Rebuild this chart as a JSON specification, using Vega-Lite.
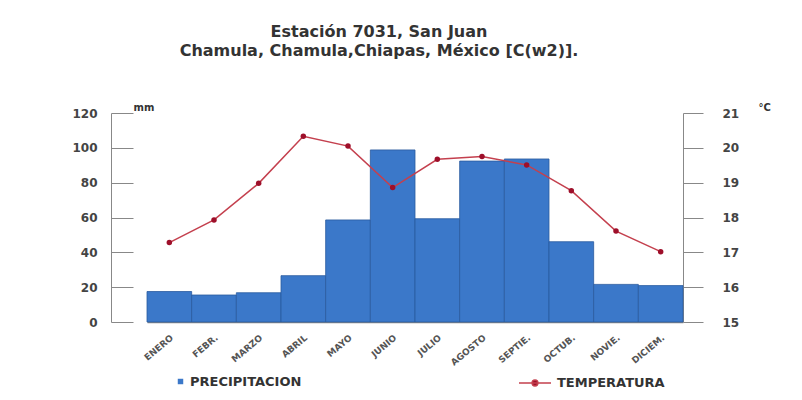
{
  "$schema": "https://vega.github.io/schema/vega-lite/v6.json",
  "autosize": {"type": "none"},
  "width": 572,
  "height": 209,
  "padding": {"left": 111, "top": 113, "right": 119, "bottom": 78},
  "background": "white",
  "config": {
    "view": {"stroke": null},
    "font": "DejaVu Sans"
  },
  "title": {
    "text": ["Estación 7031, San Juan", "Chamula, Chamula,Chiapas, México [C(w2)]."],
    "font": "DejaVu Sans",
    "fontSize": 16,
    "fontWeight": "bold",
    "color": "#333333",
    "anchor": "middle",
    "dx": -18,
    "offset": 43,
    "lineHeight": 19
  },
  "data": {
    "values": [
      {"mes": "ENERO", "precip": 17.5, "temp": 17.28},
      {"mes": "FEBR.", "precip": 15.5, "temp": 17.93},
      {"mes": "MARZO", "precip": 16.8, "temp": 18.98},
      {"mes": "ABRIL", "precip": 26.6, "temp": 20.33},
      {"mes": "MAYO", "precip": 58.6, "temp": 20.05},
      {"mes": "JUNIO", "precip": 98.8, "temp": 18.86},
      {"mes": "JULIO", "precip": 59.3, "temp": 19.67},
      {"mes": "AGOSTO", "precip": 92.4, "temp": 19.75},
      {"mes": "SEPTIE.", "precip": 93.6, "temp": 19.51},
      {"mes": "OCTUB.", "precip": 46.1, "temp": 18.77},
      {"mes": "NOVIE.", "precip": 21.6, "temp": 17.61},
      {"mes": "DICIEM.", "precip": 20.9, "temp": 17.02}
    ]
  },
  "encoding": {
    "x": {
      "field": "mes",
      "type": "nominal",
      "sort": null,
      "scale": {"range": [36, 572], "paddingInner": 0, "paddingOuter": 0},
      "axis": {
        "title": null,
        "labelAngle": -40,
        "labelFont": "DejaVu Sans",
        "labelFontSize": 9,
        "labelFontWeight": "bold",
        "labelColor": "#555555",
        "labelPadding": 11,
        "ticks": false,
        "domainColor": "#888888",
        "domainWidth": 1.5
      }
    }
  },
  "layer": [
    {
      "mark": {"type": "bar", "stroke": "#2a5b9e", "strokeWidth": 0.8},
      "encoding": {
        "y": {
          "field": "precip",
          "type": "quantitative",
          "scale": {"domain": [0, 120], "nice": false},
          "axis": {
            "title": "mm",
            "titleAngle": 0,
            "titleX": 22,
            "titleY": -6,
            "titleAlign": "left",
            "titleBaseline": "middle",
            "titleFont": "DejaVu Sans",
            "titleFontSize": 10,
            "titleFontWeight": "bold",
            "titleColor": "#333333",
            "values": [0, 20, 40, 60, 80, 100, 120],
            "grid": false,
            "tickSize": -22,
            "labelPadding": 36,
            "labelFont": "DejaVu Sans",
            "labelFontSize": 12,
            "labelFontWeight": "bold",
            "labelColor": "#444444",
            "domainColor": "#888888",
            "tickColor": "#888888"
          }
        },
        "fill": {
          "datum": "PRECIPITACION",
          "scale": {"range": ["#3b78c9"]},
          "legend": {
            "title": null,
            "orient": "none",
            "legendX": 63,
            "legendY": 262,
            "symbolType": "square",
            "symbolSize": 30,
            "symbolStrokeWidth": 0,
            "labelFont": "DejaVu Sans",
            "labelFontSize": 13,
            "labelFontWeight": "bold",
            "labelColor": "#333333",
            "labelOffset": 3
          }
        }
      }
    },
    {
      "mark": {"type": "line", "strokeWidth": 1.5},
      "encoding": {
        "y": {
          "field": "temp",
          "type": "quantitative",
          "scale": {"domain": [15, 21], "nice": false},
          "axis": {
            "orient": "right",
            "title": "°C",
            "titleAngle": 0,
            "titleX": 75,
            "titleY": -6,
            "titleAlign": "left",
            "titleBaseline": "middle",
            "titleFont": "DejaVu Sans",
            "titleFontSize": 10,
            "titleFontWeight": "bold",
            "titleColor": "#333333",
            "values": [15, 16, 17, 18, 19, 20, 21],
            "grid": false,
            "tickSize": 20,
            "labelPadding": 19,
            "labelFont": "DejaVu Sans",
            "labelFontSize": 12,
            "labelFontWeight": "bold",
            "labelColor": "#444444",
            "domainColor": "#888888",
            "tickColor": "#888888"
          }
        },
        "stroke": {
          "datum": "TEMPERATURA",
          "scale": {"range": ["#c4404e"]},
          "legend": {
            "title": null,
            "orient": "none",
            "legendX": 407,
            "legendY": 253,
            "symbolType": "M-1,0H1M0.18,0A0.18,0.18,0,1,1,-0.18,0A0.18,0.18,0,1,1,0.18,0Z",
            "symbolSize": 1024,
            "symbolStrokeWidth": 1.5,
            "symbolFillColor": "#9e0f2a",
            "labelFont": "DejaVu Sans",
            "labelFontSize": 13,
            "labelFontWeight": "bold",
            "labelColor": "#333333",
            "labelOffset": 5,
            "encode": {"symbols": {"update": {"fill": {"value": "#9e0f2a"}}}}
          }
        }
      }
    },
    {
      "mark": {"type": "point", "filled": true, "color": "#9e0f2a", "size": 30, "opacity": 1},
      "encoding": {
        "y": {
          "field": "temp",
          "type": "quantitative",
          "scale": {"domain": [15, 21], "nice": false},
          "axis": null
        }
      }
    }
  ],
  "resolve": {"scale": {"y": "independent"}}
}
